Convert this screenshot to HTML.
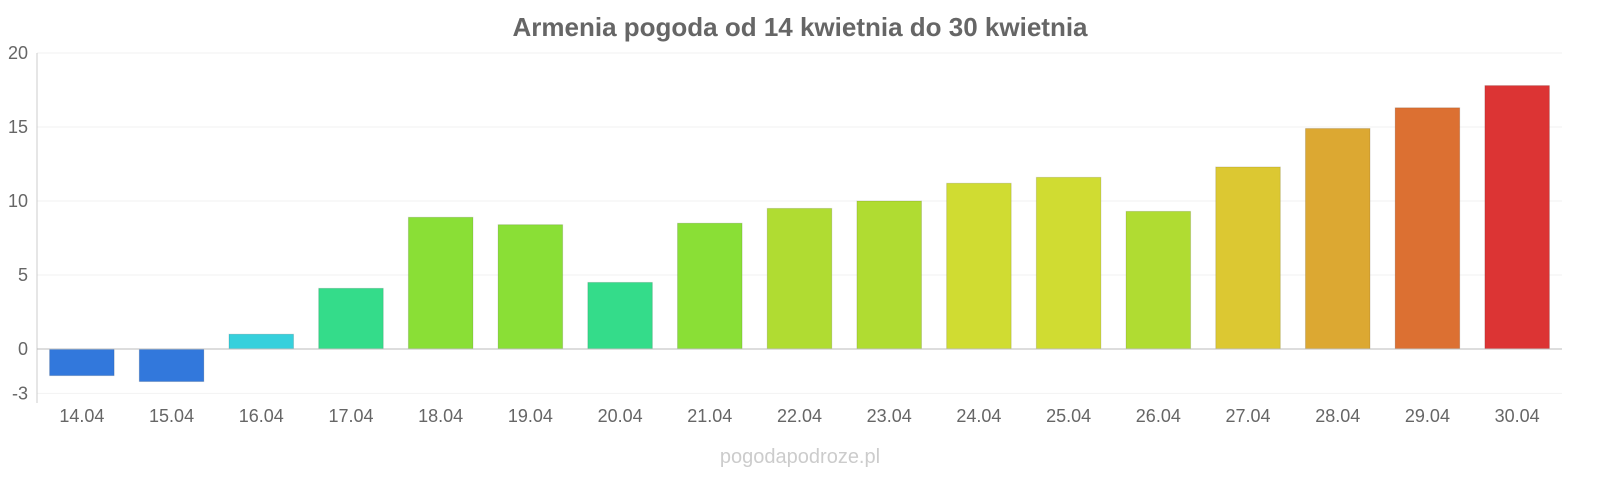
<!DOCTYPE html>
<html><head><meta charset="utf-8">
<style>
html,body{margin:0;padding:0;background:#fff;overflow:hidden;width:1600px;height:480px;}
svg{display:block;font-family:"Liberation Sans",sans-serif;}
</style></head>
<body>
<svg id="chart" width="1600" height="480" viewBox="0 0 1600 480">
<text x="800" y="36" text-anchor="middle" font-size="26" font-weight="bold" fill="#666">Armenia pogoda od 14 kwietnia do 30 kwietnia</text>
<g id="grid"></g>
<g id="bars"></g>
<g id="axes"></g>
<text x="800" y="463" text-anchor="middle" font-size="20" fill="#ccc">pogodapodroze.pl</text>
</svg>
<script>
const categories=["14.04","15.04","16.04","17.04","18.04","19.04","20.04","21.04","22.04","23.04","24.04","25.04","26.04","27.04","28.04","29.04","30.04"];
const temps=[-1.8,-2.2,1.0,4.1,8.9,8.4,4.5,8.5,9.5,10.0,11.2,11.6,9.3,12.3,14.9,16.3,17.8];
const colors=["#3278dc","#3278dc","#36d0dc","#34dc8a","#8adf36","#8adf36","#34dc8a","#8adf36","#b0dc32","#b0dc32","#d0dc32","#d0dc32","#b0dc32","#dcc832","#dca832","#dc7032","#dc3434"];
const yTicks=[-3,0,5,10,15,20];
const ns="http://www.w3.org/2000/svg";
const x0=37,x1=1562,yTop=53,yZero=349;
const sc=(yZero-yTop)/20;
const y=v=>yZero-v*sc;
const band=(x1-x0)/categories.length;
const bx=i=>x0+band*i;
function mk(t,a,p){const e=document.createElementNS(ns,t);for(const k in a)e.setAttribute(k,a[k]);p.appendChild(e);return e;}
const grid=document.getElementById('grid'),bars=document.getElementById('bars'),axes=document.getElementById('axes');
yTicks.forEach(t=>{
  if(t!==0){const l=mk('line',{x1:x0,x2:x1,y1:y(t),y2:y(t),stroke:'#f2f2f2'},grid);
  
  }
  const tx=mk('text',{x:28,y:y(t)+6,'text-anchor':'end','font-size':18,fill:'#666'},axes);
  tx.textContent=t;
  
  
});
temps.forEach((v,i)=>{
  const w=band*0.72;
  const r=mk('rect',{x:bx(i)+(band-w)/2,y:Math.min(y(v),yZero),width:w,height:Math.abs(y(v)-yZero),fill:colors[i],stroke:'rgba(0,0,0,0.12)'},bars);
  
  
  const tx=mk('text',{x:bx(i)+band/2,y:422,'text-anchor':'middle','font-size':18,fill:'#666'},axes);
  tx.textContent=categories[i];
  
  
});
const ya=mk('line',{x1:x0,x2:x0,y1:yTop,y2:403,stroke:'#ccc'},axes);


const xa=mk('line',{x1:x0,x2:x1,y1:yZero,y2:yZero,stroke:'#bbb'},axes);


</script>
</body></html>
